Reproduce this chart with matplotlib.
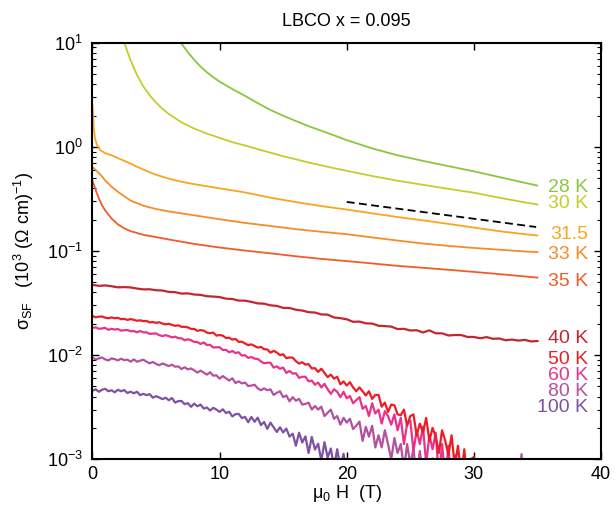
import numpy as np
import matplotlib
matplotlib.use("Agg")
import matplotlib.pyplot as plt

plt.rcParams["font.family"] = ["Liberation Sans", "DejaVu Sans"]
plt.rcParams["mathtext.fontset"] = "custom"
plt.rcParams["mathtext.rm"] = "Liberation Sans"
plt.rcParams["mathtext.it"] = "Liberation Sans:italic"
plt.rcParams["mathtext.bf"] = "Liberation Sans:bold"

# ---- smooth superconducting-fluctuation curves: field (T), sigma (10^3 (Ohm cm)^-1)
H_28 = [6.5, 7.0, 7.5, 8.0, 8.5, 9.0, 9.5, 10, 11, 12, 13, 14, 15, 16, 17, 18, 19,
        20, 21, 22, 24, 26, 28, 30, 32, 34, 35]
s_28 = [12.5, 9.8, 8.1, 6.85, 5.9, 5.2, 4.66, 4.23, 3.59, 3.09, 2.63, 2.26, 1.99,
        1.77, 1.58, 1.43, 1.29, 1.16, 1.06, 0.966, 0.83, 0.733, 0.653, 0.582, 0.513,
        0.452, 0.425]

H_30 = [2.2, 2.5, 3, 3.5, 4, 4.5, 5, 5.5, 6, 7, 8, 9, 10, 11, 12, 13, 14, 15, 16,
        17, 18, 19, 20, 22, 24, 26, 28, 30, 32, 34, 35]
s_30 = [12.6, 10.0, 6.76, 4.9, 3.8, 3.13, 2.66, 2.32, 2.07, 1.72, 1.5, 1.34, 1.22,
        1.11, 1.03, 0.95, 0.879, 0.813, 0.759, 0.708, 0.664, 0.624, 0.589, 0.525,
        0.473, 0.432, 0.395, 0.363, 0.325, 0.293, 0.28]

H_315 = [0, 0.05, 0.1, 0.2, 0.35, 0.6, 1.0, 1.5, 2.0, 2.5, 3, 3.5, 4, 4.5, 5, 6, 7,
         8, 10, 12, 14, 16, 18, 20, 22, 24, 26, 28, 30, 32, 34, 35]
s_315 = [2.5, 2.0, 1.5, 1.2, 1.05, 0.93, 0.87, 0.83, 0.78, 0.735, 0.69, 0.645, 0.605,
         0.57, 0.54, 0.495, 0.462, 0.438, 0.40, 0.365, 0.325, 0.295, 0.27, 0.25,
         0.23, 0.212, 0.197, 0.182, 0.168, 0.155, 0.145, 0.141]

H_33 = [0, 0.25, 0.5, 0.75, 1, 1.5, 2, 2.5, 3, 4, 5, 6, 8, 10, 12, 14, 16, 18, 20,
        22, 24, 26, 28, 30, 32, 34, 35]
s_33 = [0.64, 0.60, 0.56, 0.52, 0.475, 0.415, 0.37, 0.335, 0.305, 0.272, 0.253,
        0.24, 0.22, 0.202, 0.186, 0.174, 0.162, 0.153, 0.145, 0.135, 0.126, 0.118,
        0.112, 0.107, 0.103, 0.099, 0.0975]

H_35 = [0, 0.15, 0.3, 0.5, 0.75, 1.0, 1.5, 2.0, 2.5, 3, 4, 5, 6, 8, 10, 12, 14, 16,
        18, 20, 22, 24, 26, 28, 30, 32, 34, 35]
s_35 = [0.47, 0.42, 0.37, 0.32, 0.275, 0.245, 0.205, 0.18, 0.165, 0.155, 0.143,
        0.136, 0.129, 0.117, 0.108, 0.101, 0.095, 0.089, 0.084, 0.080, 0.076, 0.072,
        0.069, 0.066, 0.063, 0.060, 0.057, 0.0555]

# ---- normal-state curves, in units of 10^-3 on the plotted scale
step_40 = 0.5
s_40_milli = [47.3, 46.3, 46.7, 45.85, 44.8, 45.0, 44.7, 43.6, 42.8, 42.9, 42.0, 41.75,
              40.45, 40.25, 39.0, 39.2, 38.2, 37.9, 36.8, 36.5, 36.1, 34.85, 34.6, 33.4,
              33.35, 32.45, 31.4, 31.2, 30.1, 29.7, 28.45, 28.35, 27.3, 26.8, 25.85, 25.65,
              24.6, 24.5, 23.0, 22.65, 22.1, 20.9, 21.0, 20.2, 20.1, 19.15, 19.0, 18.8,
              17.8, 17.9, 17.25, 17.35, 16.5, 17.3, 16.2, 16.2, 15.45, 15.6, 15.6, 14.95,
              14.95, 14.5, 14.9, 14.35, 14.45, 13.9, 14.1, 13.8, 14.0, 13.55, 13.65]

step_fine = 0.25
s_50_milli = [23.7, 23.1, 23.4, 23.5, 22.9, 22.6, 23.0, 22.6, 22.8, 22.15, 22.3, 21.8,
              22.2, 21.8, 21.4, 21.6, 21.2, 21.3, 20.6, 20.8, 20.4, 20.7, 20.1, 19.75,
              20.0, 19.55, 19.1, 19.35, 18.7, 18.7, 18.5, 17.85, 17.85, 17.1, 17.4, 17.2,
              16.45, 16.25, 16.45, 15.4, 15.6, 15.4, 14.6, 14.7, 14.1, 14.3, 13.4, 13.45,
              12.95, 12.45, 12.7, 12.25, 11.8, 12.0, 11.4, 11.35, 10.55, 11.0, 10.6, 10.0,
              10.2, 9.35, 9.5, 9.45, 8.75, 8.3, 8.55, 8.1, 8.2, 7.45, 7.5, 6.9,
              7.4, 6.75, 6.15, 6.5, 5.95, 6.2, 5.25, 5.6, 5.1, 5.5, 4.9, 4.5,
              4.9, 4.5, 4.1, 4.5, 3.8, 4.15, 4.15, 3.2, 3.5, 2.85, 3.35, 3.3,
              2.7, 2.65, 3.0, 2.1, 2.6, 2.7, 1.7, 2.2, 1.8, 2.5, 1.5, 2.0,
              1.65, 1.15, 1.9, 1.5, 1.1, 1.7, 0.85, 1.35, 0.7, 1.25, 0.55, 1.0,
              1.05, 0.5]

s_60_milli = [18.2, 18.5, 17.9, 18.05, 18.3, 17.5, 17.9, 17.6, 17.8, 17.2, 17.35, 17.45,
              16.95, 17.05, 16.55, 17.05, 16.55, 16.55, 16.0, 16.1, 16.15, 15.55, 15.25, 15.55,
              15.25, 14.8, 15.05, 14.55, 14.5, 13.9, 14.2, 13.9, 13.4, 13.35, 12.8, 13.25,
              12.5, 12.55, 11.85, 11.9, 11.9, 11.2, 11.25, 10.65, 10.95, 10.5, 10.65, 9.9,
              10.0, 9.4, 9.6, 9.25, 9.2, 8.7, 8.35, 8.45, 8.45, 7.6, 7.8, 7.4,
              7.6, 6.75, 7.05, 6.65, 6.7, 6.05, 6.2, 6.2, 5.6, 5.7, 5.2, 5.45,
              4.9, 5.3, 4.7, 4.25, 4.7, 4.45, 3.95, 4.45, 3.85, 4.05, 3.45, 3.7,
              3.95, 3.05, 3.25, 2.6, 3.45, 2.75, 3.0, 2.2, 2.9, 2.6, 2.15, 2.7,
              1.9, 2.5, 1.4, 2.2, 2.35, 1.2, 1.9, 1.4, 2.05, 0.9, 1.7, 1.25,
              1.8, 0.65, 1.4, 0.65, 1.35, 0.5, 1.1, 0.5, 0.5]

s_80_milli = [9.45, 9.1, 9.3, 9.5, 9.1, 8.9, 9.3, 9.15, 8.9, 9.25, 8.95, 9.05,
              8.65, 9.1, 8.65, 8.85, 9.05, 8.65, 8.35, 8.6, 8.25, 8.0, 8.3, 8.1,
              7.85, 8.1, 7.75, 7.8, 7.35, 7.65, 7.3, 7.45, 7.15, 6.8, 7.1, 6.8,
              6.5, 6.85, 6.35, 6.4, 5.95, 6.3, 6.0, 5.7, 5.99, 5.4, 5.6, 5.35,
              5.45, 5.05, 5.1, 5.2, 4.8, 4.6, 4.8, 4.6, 4.7, 4.15, 4.35, 4.5,
              3.95, 4.1, 3.6, 3.95, 3.65, 3.8, 3.35, 3.4, 3.5, 3.0, 3.25, 3.0,
              3.2, 2.6, 2.8, 3.0, 2.45, 2.6, 2.15, 2.5, 2.25, 2.45, 1.95, 2.1,
              2.3, 1.5, 2.05, 1.65, 2.1, 1.3, 1.7, 1.3, 1.9, 1.4, 1.0, 1.6,
              1.15, 1.4, 0.8, 1.4, 0.9, 1.25, 0.65, 1.2, 0.65, 1.05, 0.5, 1.02,
              0.4]
H_80_tail = [27.0, 33.5, 33.75, 34.0]
s_80_tail_milli = [0.4, 0.4, 1.12, 0.4]

s_100_milli = [4.55, 4.7, 4.45, 4.65, 4.75, 4.5, 4.6, 4.4, 4.65, 4.5, 4.62, 4.33,
               4.46, 4.3, 4.45, 4.13, 4.25, 4.13, 4.22, 3.9, 4.04, 3.92, 3.78, 3.9,
               3.69, 3.88, 3.5, 3.62, 3.63, 3.38, 3.46, 3.19, 3.42, 3.23, 3.35, 3.07,
               3.14, 2.94, 3.12, 3.0, 2.85, 3.02, 2.78, 2.86, 2.58, 2.71, 2.73, 2.49,
               2.55, 2.27, 2.55, 2.29, 2.51, 2.13, 2.28, 1.96, 2.25, 2.03, 1.83, 2.03,
               1.81, 1.97, 1.65, 1.76, 1.35, 1.8, 1.45, 1.66, 1.15, 1.64, 1.24, 1.41,
               0.97, 1.46, 1.04, 1.27, 0.84, 1.25, 0.82, 1.13, 0.7, 0.5]

# guide-to-the-eye dashed line
H_guide = [20.0, 34.9]
s_guide = [0.296, 0.170]

temps = ["28 K", "30 K", "31.5", "33 K", "35 K", "40 K", "50 K", "60 K", "80 K", "100 K"]
colors = ["#8cc63f", "#c5cc2d", "#f9a61c", "#f68b29", "#f15a2b",
          "#c4262e", "#ee1d25", "#e8338c", "#b3519e", "#7e51a1"]
label_y = [0.405, 0.285, 0.144, 0.0925, 0.051, 0.0145, 0.0091, 0.0064, 0.0045, 0.00315]

fig = plt.figure(figsize=(6.15, 5.08), dpi=100)
ax = fig.add_axes([0.1504, 0.0959, 0.8268, 0.8200])

lw = 1.3
lw_noisy = 1.6
milli = 1e-3
H_100 = np.arange(len(s_100_milli)) * step_fine
H_80 = np.arange(len(s_80_milli)) * step_fine
H_60 = np.arange(len(s_60_milli)) * step_fine
H_50 = np.arange(len(s_50_milli)) * step_fine
H_40 = np.arange(len(s_40_milli)) * step_40

ax.plot(H_100, np.array(s_100_milli) * milli, color=colors[9], lw=lw_noisy)
ax.plot(H_80, np.array(s_80_milli) * milli, color=colors[8], lw=lw_noisy)
ax.plot(H_80_tail, np.array(s_80_tail_milli) * milli, color=colors[8], lw=lw_noisy)
ax.plot(H_60, np.array(s_60_milli) * milli, color=colors[7], lw=lw_noisy)
ax.plot(H_50, np.array(s_50_milli) * milli, color=colors[6], lw=lw_noisy)
ax.plot(H_40, np.array(s_40_milli) * milli, color=colors[5], lw=lw_noisy)
ax.plot(H_35, s_35, color=colors[4], lw=lw)
ax.plot(H_33, s_33, color=colors[3], lw=lw)
ax.plot(H_315, s_315, color=colors[2], lw=lw)
ax.plot(H_30, s_30, color=colors[1], lw=lw)
ax.plot(H_28, s_28, color=colors[0], lw=lw)
ax.plot(H_guide, s_guide, color="black", lw=1.3, dashes=(4.4, 2.4))

for name, col, yy in zip(temps, colors, label_y):
    ax.text(39.0, yy, name, color=col, fontsize=14, ha="right", va="center")

ax.set_yscale("log")
ax.set_xlim(0, 40)
ax.set_ylim(1e-3, 10)
ax.set_xticks([0, 10, 20, 30, 40])
ax.tick_params(which="both", direction="in", top=True, right=True, labelsize=13)
ax.tick_params(which="major", length=5, width=1.0)
ax.tick_params(which="minor", length=2.6, width=0.8)
ax.tick_params(axis="y", which="major", pad=7)
ax.tick_params(axis="x", which="major", pad=5)
for sp in ax.spines.values():
    sp.set_linewidth(1.5)

ax.set_title("LBCO x = 0.095", fontsize=13, pad=12)
ax.set_xlabel("μ$_{\\mathregular{0}}$ H  (T)", fontsize=13, labelpad=0)
ax.set_ylabel("σ$_{\\mathregular{SF}}$   (10$^{\\mathregular{3}}$ (Ω cm)$^{\\mathregular{-1}}$)",
              fontsize=13, labelpad=8)

fig.savefig("out.png", dpi=100)
